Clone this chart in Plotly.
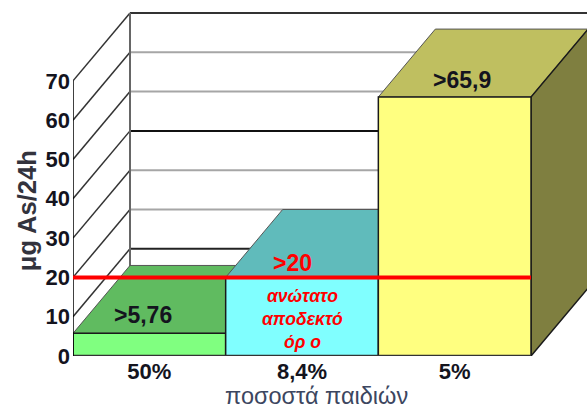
import plotly.graph_objects as go

# Chart data
categories = ["50%", "8,4%", "5%"]
values = [5.76, 20, 65.9]
value_labels = [">5,76", ">20", ">65,9"]
limit_value = 20
limit_caption = "ανώτατο<br>αποδεκτό<br>όρ ο"
y_ticks = [0, 10, 20, 30, 40, 50, 60, 70]
x_title = "ποσοστά παιδιών"
y_title = "μg As/24h"

# Oblique projection of the depth axis, in data units
PX_X = 152.67
PX_Y = 3.936
DX = 57 / PX_X
DY = 68 / PX_Y

FRONT = ["#80ff80", "#80ffff", "#ffff80"]
TOP = ["#60bb60", "#60bbbb", "#bfbf60"]
SIDE = "#7f7f40"
EDGE = "#1a1a1a"
# Back wall line colour per gridline, 10 to 70
GRID = ["#222222", "#a6a6a6", "#a6a6a6", "#111111", "#a6a6a6", "#a6a6a6", "#333333"]
SANS = "Liberation Sans"
INK = "#14141e"

fig = go.Figure()


def poly(xs, ys, fill, line=EDGE, width=1.5):
    fig.add_trace(go.Scatter(
        x=xs + xs[:1], y=ys + ys[:1], mode="lines", fill="toself",
        fillcolor=fill, line=dict(color=line, width=width),
        hoverinfo="skip", showlegend=False,
    ))


def seg(xs, ys, color, width=1.5):
    fig.add_trace(go.Scatter(
        x=xs, y=ys, mode="lines", line=dict(color=color, width=width),
        hoverinfo="skip", showlegend=False,
    ))


# Back wall and side wall grid
for v, color in zip(y_ticks[1:], GRID):
    seg([DX, 3 + DX], [v + DY, v + DY], color, 2)
for v in y_ticks[1:]:
    seg([0, DX], [v, v + DY], "#333333", 1.5)
seg([DX, DX], [DY, 70 + DY], "#666666", 2)

# Boxes, left to right so that each one hides the part of its neighbour behind it
for i, v in enumerate(values):
    poly([i, i + DX, i + 1 + DX, i + 1], [v, v + DY, v + DY, v], TOP[i], "#555555", 1)
    poly([i + 1, i + 1 + DX, i + 1 + DX, i + 1], [0, DY, v + DY, v], SIDE)
    poly([i, i + 1, i + 1, i], [0, 0, v, v], FRONT[i])

# Floor edge, vertical axis and the limit line
seg([0, 3], [0, 0], "#333333", 2.5)
seg([0, 0], [0, 70], "#000000", 1.5)
seg([0, 3], [limit_value, limit_value], "#ff0000", 4)

fig.add_annotation(x=0.46, y=values[0] + 4.6, text=value_labels[0], showarrow=False,
                   font=dict(family=SANS, size=23, color=INK, weight="bold"))
fig.add_annotation(x=1.44, y=values[1] + 3.7, text=value_labels[1], showarrow=False,
                   font=dict(family=SANS, size=23, color="#ff0000", weight="bold"))
fig.add_annotation(x=2.55, y=values[2] + 4.4, text=value_labels[2], showarrow=False,
                   font=dict(family=SANS, size=23, color=INK, weight="bold"))
fig.add_annotation(x=1.5, y=9.5, text=limit_caption, showarrow=False,
                   font=dict(family=SANS, size=17.5, color="#ff0000", style="italic", weight="bold"))

fig.add_annotation(xref="paper", yref="paper", x=0.473, y=-0.115, yanchor="middle",
                   text=x_title, showarrow=False,
                   font=dict(family=SANS, size=23.5, color="#3c4660"))
fig.add_annotation(xref="paper", yref="paper", x=-0.0905, y=0.4175, textangle=-90,
                   xanchor="center", yanchor="middle", text=y_title, showarrow=False,
                   font=dict(family=SANS, size=25.5, color="#33333d", weight="bold"))

fig.update_layout(
    width=587, height=412, autosize=False,
    margin=dict(l=73, r=0, t=8, b=55.5),
    paper_bgcolor="white", plot_bgcolor="white", showlegend=False,
    xaxis=dict(range=[0, 514 / PX_X], tickmode="array", tickvals=[0.5, 1.5, 2.5],
               ticktext=categories, showgrid=False, zeroline=False, showline=False,
               ticks="", tickfont=dict(family=SANS, size=22, color=INK, weight="bold"),
               automargin=False),
    yaxis=dict(range=[0, 348.5 / PX_Y], tickmode="array", tickvals=y_ticks,
               showgrid=False, zeroline=False, showline=False, ticks="",
               ticklabelstandoff=2,
               tickfont=dict(family=SANS, size=22, color=INK, weight="bold"),
               automargin=False),
)

fig.write_html("out.html")
